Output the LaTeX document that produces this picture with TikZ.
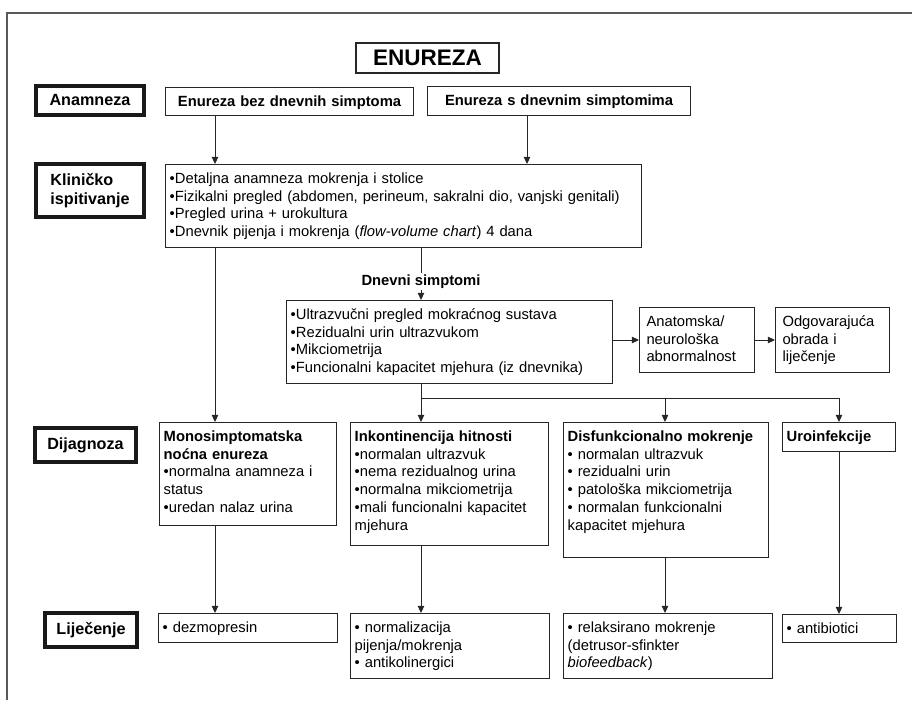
\documentclass[tikz,border=0pt]{standalone}
\usepackage{fontspec}
\setmainfont{Liberation Sans}
\usetikzlibrary{arrows.meta}

\tikzset{
  box/.style={draw=black!85, line width=0.7pt, anchor=north west, align=left,
    inner xsep=3pt, inner ysep=0pt, text height=13.5pt,
    font=\fontsize{10.5}{12.6}\selectfont},
  sz/.style 2 args={text width=#1, text depth=#2},
  stage/.style={draw=black!90, line width=2.5pt, align=left, inner sep=0pt,
    font=\bfseries\fontsize{11.5}{13.5}\selectfont},
  arr/.style={draw=black!85, line width=0.7pt, -{Triangle[length=5pt,width=4.5pt]}},
  line/.style={draw=black!85, line width=0.7pt}
}

\begin{document}
\begin{tikzpicture}[x=0.025cm, y=-0.025cm]

    \useasboundingbox (0,0) rectangle (912,700);
    \draw[black!65, line width=1.1pt] (7,700) -- (7,13) -- (912,13);

    \node[draw=black!85, line width=0.8pt, minimum width=3.575cm, minimum height=0.75cm,
          font=\bfseries\fontsize{16}{18}\selectfont] (enur) at (427.5,58) {ENUREZA};

    \node[stage, minimum width=2.7cm, minimum height=0.72cm] (anam) at (90,100.5) {Anamneza};
    \node[stage, minimum width=2.7cm, minimum height=1.32cm] (klinl) at (90,190.5) {Kliničko\\ispitivanje};
    \node[stage, minimum width=2.53cm, minimum height=0.85cm] (dijl) at (85.5,445) {Dijagnoza};
    \node[stage, minimum width=2.3cm, minimum height=0.85cm] (lijl) at (91,630) {Liječenje};

    \coordinate (c1) at (215,0);
    \coordinate (c2) at (527,0);
    \coordinate (c3) at (421,0);
    \coordinate (c4) at (665,0);
    \coordinate (c5) at (839,0);
    \coordinate (bus) at (0,398);

    \node[box, sz={170.4pt}{6.42pt}, align=center, font=\bfseries\fontsize{10.5}{12.6}\selectfont]
        (bez) at (165,87) {Enureza bez dnevnih simptoma};
    \node[box, sz={181.1pt}{7.13pt}, align=center, font=\bfseries\fontsize{10.5}{12.6}\selectfont]
        (sdn) at (427,86) {Enureza s dnevnim simptomima};

    \node[box, sz={332.6pt}{45.54pt}] (clin) at (165,164)
        {•Detaljna anamneza mokrenja i stolice\\
         •Fizikalni pregled (abdomen, perineum, sakralni dio, vanjski genitali)\\
         •Pregled urina + urokultura\\
         •Dnevnik pijenja i mokrenja (\textit{flow-volume chart}) 4 dana};

    \node[box, sz={225.9pt}{45.54pt}] (uz) at (286,300)
        {•Ultrazvučni pregled mokraćnog sustava\\
         •Rezidualni urin ultrazvukom\\
         •Mikciometrija\\
         •Funcionalni kapacitet mjehura (iz dnevnika)};
    \node[box, sz={71.8pt}{32.73pt}, inner xsep=5pt] (anat) at (639,307)
        {Anatomska/\\neurološka\\abnormalnost};
    \node[box, sz={71.1pt}{32.73pt}, inner xsep=5pt] (odg) at (775,307)
        {Odgovarajuća\\obrada i\\liječenje};

    \node[box, sz={119.9pt}{59.77pt}] (mono) at (159,422)
        {\textbf{Monosimptomatska}\\\textbf{noćna enureza}\\
         •normalna anamneza i\\status\\•uredan nalaz urina};
    \node[box, sz={134.8pt}{73.99pt}] (ink) at (350,422)
        {\textbf{Inkontinencija hitnosti}\\
         •normalan ultrazvuk\\•nema rezidualnog urina\\•normalna mikciometrija\\
         •mali funcionalni kapacitet\\mjehura};
    \node[box, sz={139.8pt}{82.53pt}] (disf) at (563,422)
        {\textbf{Disfunkcionalno mokrenje}\\
         • normalan ultrazvuk\\• rezidualni urin\\• patološka mikciometrija\\
         • normalan funkcionalni\\kapacitet mjehura};
    \node[box, sz={74.4pt}{7.13pt}] (uro) at (782,422) {\textbf{Uroinfekcije}};

    \node[box, sz={121.3pt}{7.13pt}] (dez) at (158,613) {• dezmopresin};
    \node[box, sz={135.6pt}{32.73pt}] (norm) at (350,613)
        {• normalizacija\\pijenja/mokrenja\\• antikolinergici};
    \node[box, sz={142.7pt}{32.73pt}] (rel) at (563,613)
        {• relaksirano mokrenje\\(detrusor-sfinkter\\\textit{biofeedback})};
    \node[box, sz={75.1pt}{6.42pt}] (anti) at (782,614) {• antibiotici};

    \draw[arr] (bez.south -| c1) -- (clin.north -| c1);
    \draw[arr] (sdn.south -| c2) -- (clin.north -| c2);
    \draw[arr] (clin.south -| c1) -- (mono.north -| c1);
    \draw[arr] (clin.south -| c3) -- node[pos=0.64, fill=white, inner sep=1pt,
          font=\bfseries\fontsize{10.5}{12.6}\selectfont] (dsimp) {Dnevni simptomi} (uz.north -| c3);
    \draw[arr] (anat.west -| uz.east) -- (anat.west);
    \draw[arr] (anat.east) -- (odg.west);
    \draw[arr] (uz.south -| c3) -- (ink.north -| c3);
    \draw[line] (bus -| c3) -- (bus -| c5);
    \draw[arr] (bus -| c4) -- (disf.north -| c4);
    \draw[arr] (bus -| c5) -- (uro.north -| c5);

    \draw[arr] (mono.south -| c1) -- (dez.north -| c1);
    \draw[arr] (ink.south -| c3) -- (norm.north -| c3);
    \draw[arr] (disf.south -| c4) -- (rel.north -| c4);
    \draw[arr] (uro.south -| c5) -- (anti.north -| c5);

\end{tikzpicture}
\end{document}
